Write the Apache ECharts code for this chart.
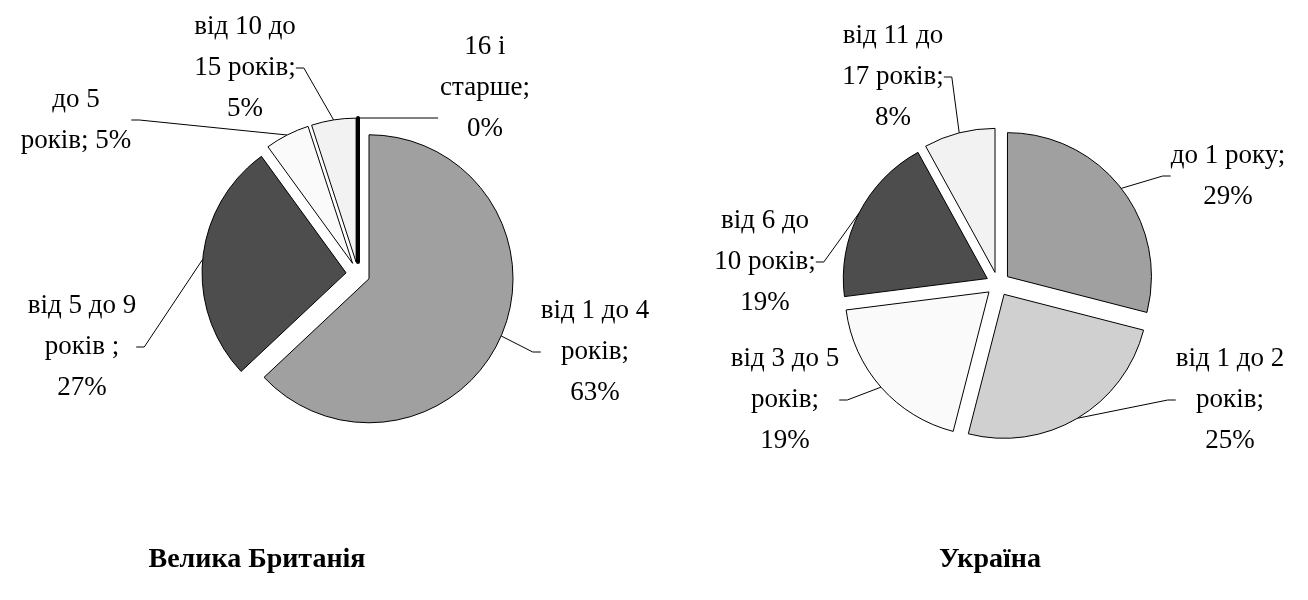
<!DOCTYPE html>
<html lang="uk">
<head>
<meta charset="utf-8">
<title>Структура за віком — Велика Британія / Україна</title>
<script src="https://cdn.jsdelivr.net/npm/echarts@6/dist/echarts.min.js"></script>
<style>
  html, body { margin: 0; padding: 0; background: #FFFFFF; }
  #chart { width: 1308px; height: 600px; }
</style>
</head>
<body>
<div id="chart"></div>
<script>
(function () {
  "use strict";

  // — Велика Британія —
  const gbNames = ["від 1 до 4\nроків", "від 5 до 9\nроків ", "до 5\nроків", "від 10 до\n15 років", "16 і\nстарше"];
  const gbValues = [63, 27, 5, 5, 0];
  const gbSep = ["\n", "\n", " ", "\n", "\n"]; // що стоїть між «;» і відсотком

  // — Україна —
  const uaNames = ["до 1 року", "від 1 до 2\nроків", "від 3 до 5\nроків", "від 6 до\n10 років", "від 11 до\n17 років"];
  const uaValues = [29, 25, 19, 19, 8];
  const uaSep = ["\n", "\n", "\n", "\n", "\n"];

  const titles = ["Велика Британія", "Україна"];

  // оформлення (не дані)
  const gbFill = ["#A0A0A0", "#4D4D4D", "#FAFAFA", "#F2F2F2", "#000000"];
  const uaFill = ["#A0A0A0", "#D0D0D0", "#FAFAFA", "#4D4D4D", "#F2F2F2"];
  const gbLabelAt = [[595, 352], [82, 347], [76, 120], [245, 68], [485, 88]];
  const uaLabelAt = [[1228, 176], [1230, 400], [785, 400], [765, 262], [893, 77]];
  const FONT = '"Liberation Serif", "Times New Roman", serif';
  const R = 144;      // радіус
  const GAP = 12;     // «розсунуті» сектори

  const chart = echarts.init(document.getElementById("chart"), null, { renderer: "canvas" });

  // Кожен сектор — окрема серія з усіма значеннями (кути рахує бібліотека),
  // решта секторів прозорі; центр серії зсунуто вздовж середини свого сектора.
  // (selected + selectedOffset ламає labelLayout, тому так.)
  function pieSlices(names, values, sep, fill, labelAt, center) {
    const total = values.reduce((s, v) => s + v, 0);
    let acc = 0;
    return values.map((v, i) => {
      const mid = (acc + v / 2) / total * 2 * Math.PI;
      acc += v;
      return {
        type: "pie",
        center: [center[0] + GAP * Math.sin(mid), center[1] - GAP * Math.cos(mid)],
        radius: R,
        startAngle: 90,
        clockwise: true,
        avoidLabelOverlap: false,
        silent: true,
        animation: false,
        emphasis: { disabled: true },
        data: names.map((n, j) => (j === i ? {
          name: n, value: values[j],
          itemStyle: { color: fill[j], borderColor: "#000000",
                       borderWidth: values[j] === 0 ? 4 : 1 },
        } : {
          name: n, value: values[j],
          itemStyle: { color: "rgba(0,0,0,0)", borderWidth: 0 },
          label: { show: false }, labelLine: { show: false },
        })),
        label: {
          show: true, position: "outside",
          formatter: (p) => p.name + ";" + sep[p.dataIndex] + p.value + "%",
          fontFamily: FONT, fontSize: 27, lineHeight: 41, color: "#000000",
          align: "center",
        },
        labelLine: { show: true, length: 10, length2: 8, smooth: false,
                     lineStyle: { color: "#000000", width: 1 } },
        labelLayout: (p) => {
          const at = labelAt[p.dataIndex];
          const out = { x: at[0], y: at[1], align: "center", verticalAlign: "middle" };
          // нульовий сектор: горизонтальна виноска від його верхівки, як в оригіналі
          if (values[p.dataIndex] === 0 && p.labelLinePoints) {
            const s = p.labelLinePoints[0];
            const left = at[0] - p.labelRect.width / 2 - 2;
            out.labelLinePoints = [[s[0], s[1]], [left - 8, s[1]], [left, s[1]]];
          }
          return out;
        },
      };
    });
  }

  chart.setOption({
    backgroundColor: "#FFFFFF",
    animation: false,
    title: [
      { text: titles[0], left: 252, top: 541, textAlign: "center",
        textStyle: { fontFamily: FONT, fontSize: 28, fontWeight: "bold", color: "#000000" } },
      { text: titles[1], left: 985, top: 541, textAlign: "center",
        textStyle: { fontFamily: FONT, fontSize: 28, fontWeight: "bold", color: "#000000" } },
    ],
    series: [].concat(
      pieSlices(gbNames, gbValues, gbSep, gbFill, gbLabelAt, [358, 274]),
      pieSlices(uaNames, uaValues, uaSep, uaFill, uaLabelAt, [998, 284])
    ),
  });
})();
</script>
</body>
</html>
